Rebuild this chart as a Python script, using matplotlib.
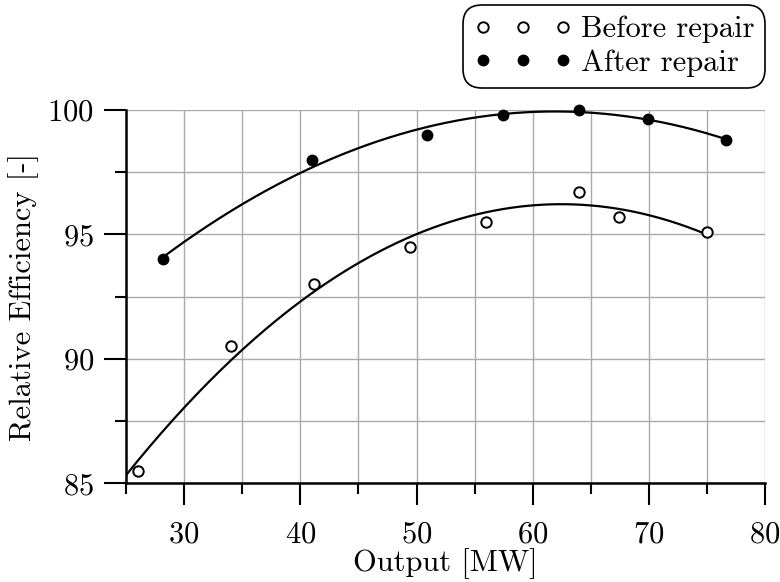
import numpy as np
import matplotlib
matplotlib.use("Agg")
import matplotlib.pyplot as plt
from matplotlib.ticker import MultipleLocator

# Data
before_x = [26.0, 34.0, 41.2, 49.4, 56.0, 64.0, 67.4, 75.0]
before_y = [85.5, 90.5, 93.0, 94.5, 95.5, 96.7, 95.7, 95.1]
after_x = [28.2, 41.0, 50.9, 57.4, 64.0, 69.9, 76.6]
after_y = [94.0, 98.0, 99.0, 99.8, 100.0, 99.65, 98.8]

# x range covered by each fitted curve
before_fit_range = [25.0, 75.0]
after_fit_range = [28.2, 76.6]

plt.rcParams['font.family'] = ['cmr10', 'DejaVu Serif']
plt.rcParams['axes.formatter.use_mathtext'] = True
font_size = 22

fig = plt.figure(figsize=(7.8, 5.82), dpi=100)
ax = fig.add_axes([0.1615, 0.1696, 0.8195, 0.6417])

# quadratic trend lines fitted to the points
for xs, ys, rng in [(before_x, before_y, before_fit_range), (after_x, after_y, after_fit_range)]:
    coef = np.polyfit(xs, ys, 2)
    xx = np.linspace(rng[0], rng[1], 200)
    ax.plot(xx, np.polyval(coef, xx), color="black", lw=1.6, zorder=3)

ax.plot(before_x, before_y, "o", ms=7.5, mfc="white", mec="black", mew=1.4,
        label="Before repair", zorder=4, clip_on=False)
ax.plot(after_x, after_y, "o", ms=7.5, mfc="black", mec="black",
        label="After repair", zorder=4, clip_on=False)

ax.set_xlim(25, 80)
ax.set_ylim(85, 100)
ax.xaxis.set_minor_locator(MultipleLocator(5))
ax.yaxis.set_major_locator(MultipleLocator(5))
ax.yaxis.set_minor_locator(MultipleLocator(2.5))
ax.set_xticks([30, 40, 50, 60, 70, 80])

ax.grid(True, which="both", color="#aaaaaa", lw=1.0, zorder=0)
ax.set_axisbelow(True)
ax.spines["top"].set_visible(False)
ax.spines["right"].set_visible(False)
ax.spines["left"].set_linewidth(1.8)
ax.spines["bottom"].set_linewidth(1.8)
ax.tick_params(which="major", direction="out", length=16, width=1.5, labelsize=font_size, pad=7)
ax.tick_params(which="minor", direction="out", length=8, width=1.5)
ax.tick_params(axis="x", which="major", pad=11)

ax.set_xlabel("Output [MW]", fontsize=font_size, labelpad=0)
ax.set_ylabel("Relative Efficiency [-]", fontsize=font_size, labelpad=6)

leg = fig.legend(loc="upper right", bbox_to_anchor=(0.981, 0.991), borderaxespad=0,
                 numpoints=3, handlelength=3.2, handletextpad=0.3, fontsize=font_size,
                 frameon=True, fancybox=True, borderpad=0.35, labelspacing=0.2,
                 edgecolor="black", framealpha=1.0)
leg.get_frame().set_linewidth(1.2)
leg.get_frame().set_boxstyle("round,pad=0,rounding_size=0.6")

fig.savefig("out.png", dpi=100)
